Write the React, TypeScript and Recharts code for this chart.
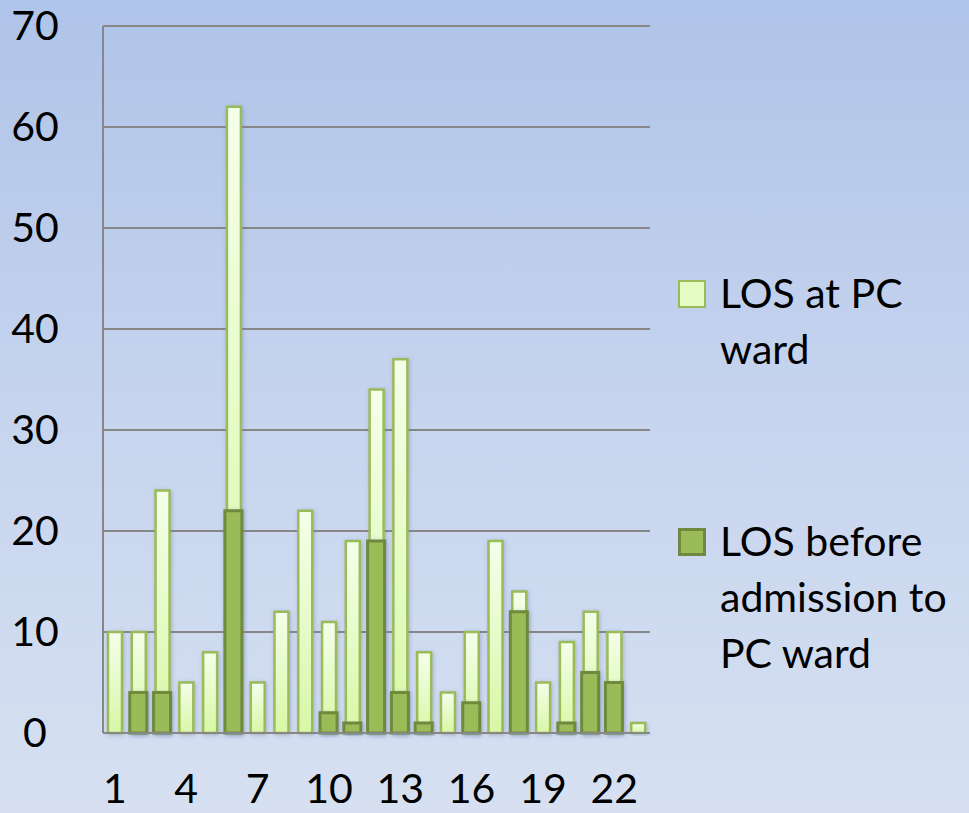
import { BarChart, Bar, XAxis, YAxis, CartesianGrid, Legend } from 'recharts';

const categories = ['1', '2', '3', '4', '5', '6', '7', '8', '9', '10', '11', '12', '13', '14', '15', '16', '17', '18', '19', '20', '21', '22', '23'];
const losAtWard = [10, 10, 24, 5, 8, 62, 5, 12, 22, 11, 19, 34, 37, 8, 4, 10, 19, 14, 5, 9, 12, 10, 1];
const losBefore = [0, 4, 4, 0, 0, 22, 0, 0, 0, 2, 1, 19, 4, 1, 0, 3, 0, 12, 0, 1, 6, 5, 0];
const yTicks = [0, 10, 20, 30, 40, 50, 60, 70];

const data = categories.map((c, i) => ({ cat: c, ward: losAtWard[i], before: losBefore[i] }));

const FONT = 'Lato, "Open Sans", sans-serif';
const GRID = '#878787';

const legendItems = [
  { key: 'ward', lines: ['LOS at PC', 'ward'], fill: '#e4fbc4', stroke: '#9bbb59', sw: 2 },
  { key: 'before', lines: ['LOS before', 'admission to', 'PC ward'], fill: '#9bbb59', stroke: '#71893f', sw: 3 },
];

const XTick = ({ x, y, payload }: any) => (
  <text x={x} y={y + 70} textAnchor="middle" fontSize={41} fontFamily={FONT} fill="#000">
    {payload.value}
  </text>
);

const YTick = ({ x, y, payload }: any) => (
  <text x={x - 68} y={y + 14} textAnchor="middle" fontSize={41} fontFamily={FONT} fill="#000">
    {payload.value}
  </text>
);

const renderLegend = () => (
  <div style={{ position: 'relative', width: 969, height: 813, fontFamily: FONT, fontSize: 41, color: '#000' }}>
    {legendItems.map((it, i) => (
      <div key={it.key} style={{ position: 'absolute', left: 678, top: i === 0 ? 272 : 520 }}>
        <div
          style={{
            position: 'absolute', left: 0, top: 8, width: 28 - it.sw * 2, height: 28 - it.sw * 2,
            background: it.fill, border: `${it.sw}px solid ${it.stroke}`,
          }}
        />
        <div style={{ position: 'absolute', left: 42, top: -7, lineHeight: '56px', whiteSpace: 'nowrap' }}>
          {it.lines.map((l) => (
            <div key={l}>{l}</div>
          ))}
        </div>
      </div>
    ))}
  </div>
);

export default function App() {
  return (
    <div
      style={{
        position: 'absolute', left: 0, top: 0, width: 969, height: 813,
        background: 'linear-gradient(180deg, #afc4e9 0%, #c6d4ee 50%, #d6e0f1 100%)',
      }}
    >
      <BarChart width={969} height={813} data={data} margin={{ top: 26, right: 319, left: 0, bottom: 0 }}>
        <defs>
          <linearGradient id="wardFill" x1="0" y1="0" x2="0" y2="1">
            <stop offset="0%" stopColor="#f4ffea" />
            <stop offset="100%" stopColor="#d9f7a6" />
          </linearGradient>
          <filter id="shadow" x="-50%" y="-10%" width="200%" height="130%">
            <feDropShadow dx="1" dy="1" stdDeviation="2" floodColor="#6b7fa6" floodOpacity="0.45" />
          </filter>
        </defs>
        <CartesianGrid vertical={false} stroke={GRID} strokeWidth={2} />
        <XAxis
          dataKey="cat"
          interval={2}
          tickLine={false}
          tickSize={0}
          tickMargin={0}
          height={80}
          axisLine={{ stroke: GRID, strokeWidth: 2 }}
          tick={<XTick />}
        />
        <XAxis xAxisId="front" dataKey="cat" hide />
        <YAxis
          domain={[0, 70]}
          ticks={yTicks}
          width={103}
          tickLine={false}
          tickSize={0}
          tickMargin={0}
          axisLine={{ stroke: GRID, strokeWidth: 2 }}
          tick={<YTick />}
        />
        <Legend layout="horizontal" align="center" verticalAlign="middle" wrapperStyle={{ left: 0, top: 0, width: 969, height: 813 }} content={renderLegend} />
        <Bar
          dataKey="ward"
          name="LOS at PC ward"
          barSize={14}
          fill="url(#wardFill)"
          stroke="#9bbb59"
          strokeWidth={2.5}
          filter="url(#shadow)"
          isAnimationActive={false}
        />
        <Bar
          dataKey="before"
          xAxisId="front"
          name="LOS before admission to PC ward"
          barSize={17}
          fill="#9bbb59"
          stroke="#6f8a3b"
          strokeWidth={3}
          filter="url(#shadow)"
          isAnimationActive={false}
        />
      </BarChart>
    </div>
  );
}
